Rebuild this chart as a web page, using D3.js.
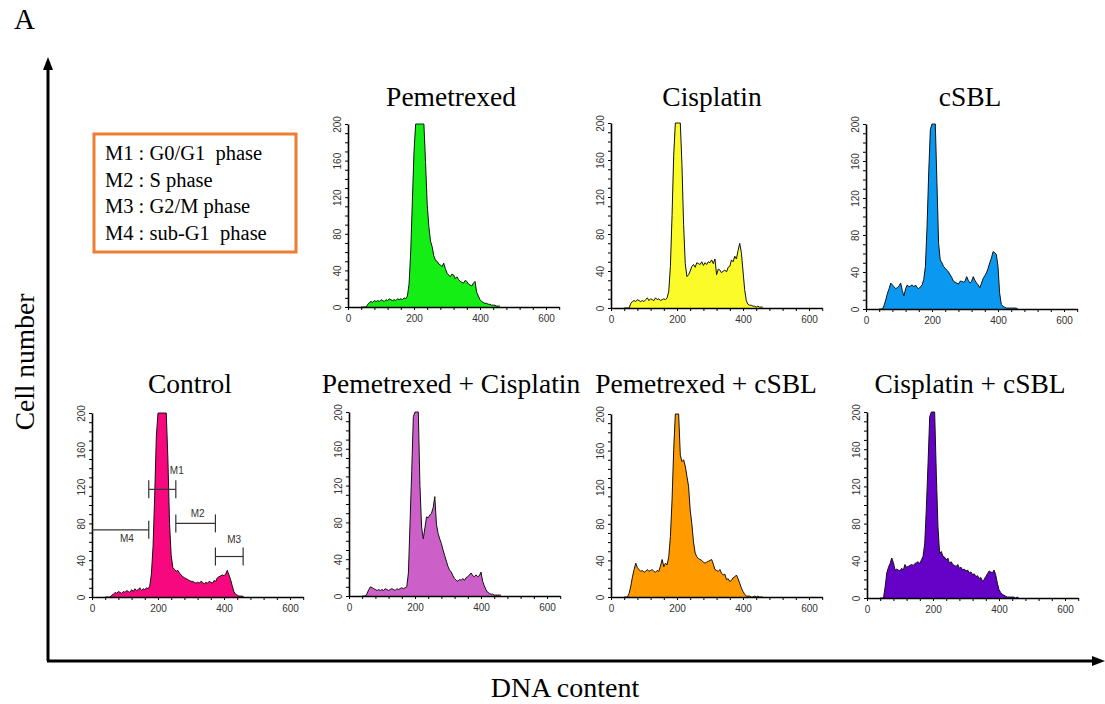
<!DOCTYPE html>
<html>
<head>
<meta charset="utf-8">
<script src="https://cdn.jsdelivr.net/npm/d3@7"></script>
<style>
  html, body { margin: 0; padding: 0; background: #fff; }
  svg { display: block; }
</style>
</head>
<body>
<svg id="chart" width="1105" height="704"></svg>
<script>
// ---------- DATA ----------
// DNA-content channels (bin centres) covered by the histograms
const channels = d3.range(40, 465, 5);

const control = [
  0,0,0,0,2,3,5,4,6,5,
  4,6,5,7,6,5,8,6,9,7,
  8,10,7,9,8,10,9,12,25,55,
  110,175,200,200,200,200,200,200,150,80,
  45,32,30,28,29,26,24,22,21,20,
  19,18,17,17,16,15,16,15,17,16,
  14,16,15,17,16,15,18,17,21,22,
  23,24,23,25,29,24,19,12,6,3,
  2,1,1,1,0];

const pemetrexed = [
  0,0,0,0,3,5,6,5,7,6,
  7,6,8,7,6,8,7,9,8,7,
  8,7,9,8,9,8,10,9,12,25,
  60,115,170,200,200,200,200,200,200,158,
  112,88,72,66,56,51,50,47,46,44,
  48,42,37,35,33,36,35,31,33,30,
  28,27,26,29,28,25,24,23,26,28,
  16,12,8,6,5,4,4,3,3,2,
  2,2,1,1,1];

const cisplatin = [
  0,0,0,0,5,7,8,7,9,8,
  7,8,7,9,11,8,10,9,8,11,
  9,10,8,9,10,9,11,18,45,100,
  165,200,200,200,200,155,90,48,34,36,
  40,45,47,44,49,48,47,50,46,49,
  47,50,49,52,48,53,36,42,41,38,
  40,41,39,44,45,52,50,56,53,62,
  70,60,40,20,8,4,3,3,2,2,
  1,2,1,1,1];

const csbl = [
  0,0,0,4,10,17,22,28,26,24,
  22,23,25,28,20,14,22,26,24,25,
  26,24,26,23,22,24,26,32,46,89,
  147,194,200,200,200,136,71,53,50,46,
  44,42,40,37,34,30,29,28,27,30,
  30,29,30,35,31,28,30,35,31,28,
  26,23,28,33,36,39,44,50,55,62,
  61,59,46,17,5,3,2,1,1,1,
  1,1,1,1,0];

const pemCis = [
  0,0,0,3,7,10,9,8,7,6,
  7,6,7,6,8,7,6,7,8,7,
  6,8,7,8,9,8,9,10,25,80,
  135,195,200,200,200,120,75,62,74,86,
  85,88,90,96,108,78,68,62,57,50,
  44,38,32,28,26,22,19,17,16,18,
  17,19,17,20,21,23,25,22,21,23,
  21,22,26,16,11,7,4,3,2,2,
  1,1,1,1,1];

const pemCsbl = [
  0,0,0,4,12,22,30,37,32,30,
  28,29,27,28,30,28,29,30,28,27,
  29,28,34,41,33,37,35,44,66,106,
  161,200,200,200,155,148,150,143,132,121,
  95,80,60,48,44,42,41,40,38,37,
  38,39,40,41,36,30,29,28,30,26,
  24,25,19,20,17,18,21,22,24,20,
  15,10,6,3,1,1,1,0,0,1,
  0,1,0,0,0];

const cisCsbl = [
  0,0,0,12,27,33,37,43,38,30,
  31,30,29,32,30,36,33,34,35,36,
  35,37,38,39,37,41,45,59,98,145,
  195,200,200,200,134,77,48,50,45,44,
  41,43,37,39,36,35,34,36,32,33,
  30,31,29,30,27,28,25,26,23,24,
  21,22,18,20,23,26,29,28,27,30,
  25,16,9,6,4,3,2,1,1,1,
  1,1,0,1,0];

const panelTitles = ["Pemetrexed", "Cisplatin", "cSBL", "Control",
  "Pemetrexed + Cisplatin", "Pemetrexed + cSBL", "Cisplatin + cSBL"];
const panelSeries = [pemetrexed, cisplatin, csbl, control, pemCis, pemCsbl, cisCsbl];
const panelColors = ["#14ee14", "#fbfb2a", "#0a98f0", "#f7087f", "#cc60c8", "#ff9a00", "#6602c8"];

const xTickLabels = [0, 200, 400, 600];
const yTickLabels = [0, 40, 80, 120, 160, 200];

// Gate markers drawn on the Control histogram
const markerNames  = ["M1", "M2", "M3", "M4"];
const markerStart  = [172, 254, 374, 0];
const markerEnd    = [254, 374, 458, 172];
const markerLevel  = [117, 80, 44, 73];
const markerLabelX = [257, 320, 431, 106];
const markerLabelY = [138, 91, 63, 64];

const legendLines = ["M1 : G0/G1\u00a0 phase", "M2 : S phase", "M3 : G2/M phase", "M4 : sub-G1\u00a0 phase"];

// ---------- LAYOUT ----------
const layout = [
  {x0: 348, top: 124, bottom: 307, tx: 451, ty: 106},
  {x0: 611, top: 123, bottom: 308, tx: 712, ty: 106},
  {x0: 866, top: 124, bottom: 309, tx: 970, ty: 106},
  {x0: 92,  top: 413, bottom: 597, tx: 190, ty: 393},
  {x0: 349, top: 412, bottom: 596, tx: 451, ty: 393},
  {x0: 611, top: 414, bottom: 597, tx: 706, ty: 393},
  {x0: 867, top: 412, bottom: 598, tx: 970, ty: 393}
];
const pxPerUnit = 0.33;

const svg = d3.select("#chart");
const serif = "'Liberation Serif', 'Times New Roman', serif";
const sans = "'Liberation Sans', Arial, Helvetica, sans-serif";

// ---------- big axes ----------
svg.append("text").attr("x", 14).attr("y", 29)
  .attr("font-family", serif).attr("font-size", 29).text("A");

svg.append("line").attr("x1", 48).attr("y1", 661).attr("x2", 48).attr("y2", 66)
  .attr("stroke", "#000").attr("stroke-width", 3);
svg.append("path").attr("d", "M48,57 L53,70 L43,70 Z").attr("fill", "#000");
svg.append("line").attr("x1", 47).attr("y1", 661).attr("x2", 1094).attr("y2", 661)
  .attr("stroke", "#000").attr("stroke-width", 3);
svg.append("path").attr("d", "M1105,661 L1092,656 L1092,666 Z").attr("fill", "#000");

svg.append("text").attr("transform", "translate(34,362) rotate(-90)")
  .attr("text-anchor", "middle").attr("font-family", serif).attr("font-size", 27.5)
  .text("Cell number");
svg.append("text").attr("x", 565).attr("y", 697)
  .attr("text-anchor", "middle").attr("font-family", serif).attr("font-size", 28)
  .text("DNA content");

// ---------- legend ----------
svg.append("rect").attr("x", 94).attr("y", 134).attr("width", 202).attr("height", 118)
  .attr("fill", "none").attr("stroke", "#ed7d31").attr("stroke-width", 3);
svg.selectAll("text.legend").data(legendLines).enter().append("text")
  .attr("class", "legend")
  .attr("x", 105).attr("y", (d, i) => 160 + i * 26.5)
  .attr("font-family", serif).attr("font-size", 20.5).text(d => d);

// ---------- panels ----------
panelSeries.forEach((series, p) => {
  const L = layout[p];
  const x = d3.scaleLinear().domain([0, 640]).range([L.x0, L.x0 + 640 * pxPerUnit]);
  const y = d3.scaleLinear().domain([0, 200]).range([L.bottom, L.top]);
  const g = svg.append("g");
  const pts = channels.map((c, i) => [c, Math.min(series[i], 200)]);

  g.append("path").datum(pts)
    .attr("d", d3.area().x(d => x(d[0])).y0(y(0)).y1(d => y(d[1])))
    .attr("fill", panelColors[p]);
  g.append("path").datum(pts)
    .attr("d", d3.line().x(d => x(d[0])).y(d => y(d[1])))
    .attr("fill", "none").attr("stroke", "#111").attr("stroke-width", 1)
    .attr("stroke-linejoin", "round");

  // y axis
  const ya = g.append("g").attr("transform", `translate(${L.x0},0)`)
    .call(d3.axisLeft(y).tickValues(d3.range(0, 201, 10)).tickSize(3).tickSizeOuter(0)
      .tickFormat(d => yTickLabels.includes(d) ? d : ""));
  ya.select(".domain").attr("stroke", "#000").attr("stroke-width", 1.6);
  ya.selectAll(".tick line").attr("stroke", "#000").attr("stroke-width", 1);
  ya.selectAll(".tick text")
    .attr("transform", "rotate(-90)")
    .attr("x", 0).attr("y", -7).attr("dy", 0)
    .attr("text-anchor", "middle")
    .attr("font-family", sans).attr("font-size", 10).attr("fill", "#333");

  // x axis
  const xa = g.append("g").attr("transform", `translate(0,${L.bottom})`)
    .call(d3.axisBottom(x).tickValues(d3.range(0, 641, 40)).tickSize(3).tickSizeOuter(0)
      .tickFormat(d => xTickLabels.includes(d) ? d : ""));
  xa.select(".domain").attr("stroke", "#000").attr("stroke-width", 1.6);
  xa.selectAll(".tick line").attr("stroke", "#000").attr("stroke-width", 1);
  xa.selectAll(".tick text").attr("y", 8).attr("dy", "0.71em")
    .attr("font-family", sans).attr("font-size", 10).attr("fill", "#333");

  // title
  svg.append("text").attr("x", L.tx).attr("y", L.ty).attr("text-anchor", "middle")
    .attr("font-family", serif).attr("font-size", 27.5).text(panelTitles[p]);

  // markers on Control
  if (panelTitles[p] === "Control") {
    const mg = g.append("g").attr("stroke", "#333").attr("stroke-width", 1.2);
    markerNames.forEach((m, i) => {
      const yy = y(markerLevel[i]);
      mg.append("line").attr("x1", x(markerStart[i])).attr("x2", x(markerEnd[i]))
        .attr("y1", yy).attr("y2", yy);
      const caps = markerStart[i] === 0 ? [markerEnd[i]] : [markerStart[i], markerEnd[i]];
      caps.forEach(c => mg.append("line").attr("x1", x(c)).attr("x2", x(c))
        .attr("y1", yy - 9).attr("y2", yy + 9));
      g.append("text").attr("x", x(markerLabelX[i])).attr("y", y(markerLabelY[i]))
        .attr("dy", "0.35em").attr("text-anchor", "middle")
        .attr("font-family", sans).attr("font-size", 10).attr("fill", "#333").text(m);
    });
  }
});
</script>
</body>
</html>
